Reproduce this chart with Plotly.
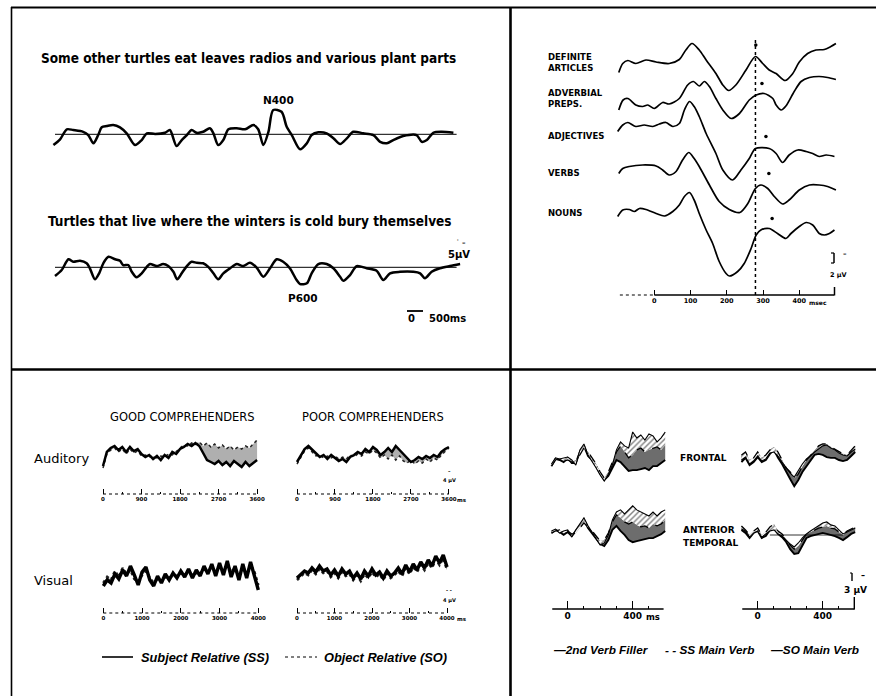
import plotly.graph_objects as go

W, H = 876, 696

# ---------------- DATA ----------------
# Panel A: sentence ERPs (time in s from sentence onset, amplitude in µV, negative plotted up)
SENT1_TEXT = "Some other turtles eat leaves radios and various plant parts"
SENT2_TEXT = "Turtles that live where the winters is cold bury themselves"
SENT1_T = [-0.05, 0.16, 0.37, 0.57, 0.88, 1.04, 1.20, 1.35, 1.46, 1.62, 1.82, 2.03, 2.24, 2.50, 2.71,
           2.87, 3.13, 3.44, 3.59, 3.80, 3.96, 4.12, 4.27, 4.43, 4.63, 4.84, 4.95, 5.10, 5.26, 5.42,
           5.68, 5.94, 6.20, 6.35, 6.51, 6.67, 6.82, 7.08, 7.24, 7.40, 7.66, 7.87, 8.02, 8.23, 8.49,
           8.70, 8.91, 9.12, 9.32, 9.63, 9.95, 10.16, 10.37, 10.57, 10.88, 11.30, 11.46, 11.62, 11.82,
           12.08, 12.45]
SENT1_UV = [4.3, 2.0, -2.0, -1.7, -1.0, 0.3, 3.6, 0.3, -2.8, -3.3, -3.7, -2.8, -0.4, 4.3, 2.3,
            -0.4, -0.1, -0.6, -1.7, 4.7, 2.3, 0.3, -1.7, -0.6, -1.0, -2.4, -0.4, 4.3, 2.3, -2.0,
            -2.4, -2.0, -3.7, -2.0, 4.3, -1.0, -9.7, -9.0, -3.0, 0.3, 6.0, 3.6, 0.3, -0.8, -0.4,
            1.6, 3.9, 1.6, -1.0, -0.4, 0.3, 3.0, 3.6, 2.3, 0.7, 0.3, 3.0, 2.3, -0.6, -1.0, -0.6]
SENT2_T = [0.00, 0.21, 0.42, 0.57, 0.78, 0.99, 1.09, 1.25, 1.38, 1.51, 1.67, 1.88, 2.03, 2.13, 2.29,
           2.40, 2.55, 2.71, 2.87, 2.97, 3.18, 3.38, 3.54, 3.70, 3.82, 3.96, 4.12, 4.27, 4.43, 4.63,
           4.79, 4.95, 5.10, 5.26, 5.47, 5.68, 5.88, 6.09, 6.30, 6.51, 6.72, 6.93, 7.13, 7.34, 7.55,
           7.66, 7.87, 8.02, 8.23, 8.49, 8.70, 8.91, 9.01, 9.22, 9.43, 9.74, 10.05, 10.26, 10.47,
           10.78, 11.20, 11.41, 11.56, 11.77, 12.03, 12.34, 12.66]
SENT2_UV = [3.5, 1.1, -3.2, -2.2, -2.6, -1.6, 0.4, 4.8, 2.4, -1.6, -4.2, -3.2, -2.6, -0.9, -0.9,
            1.8, 4.0, 2.4, -0.2, -1.3, -0.5, -1.3, -0.5, 1.8, 4.8, 2.4, -0.5, -2.2, -1.8, -1.6,
            -0.2, 2.4, 4.8, 2.4, 0.4, -1.3, -0.5, -1.8, 0.1, 3.8, 0.4, -3.2, -2.2, 0.4, 5.1,
            6.7, 6.4, 2.4, -1.3, -1.3, 0.4, 3.8, 5.4, 3.1, -0.5, 0.4, 1.4, 5.1, 2.4, 1.8,
            1.8, 2.4, 4.4, 1.8, 0.4, -0.5, -1.3]
SCALE_A_S = 0.5      # 500 ms scale bar

# Panel B: word-class ERPs (ms, µV, negative up)
WORD_CLASSES = ["DEFINITE<br>ARTICLES", "ADVERBIAL<br>PREPS.", "ADJECTIVES", "VERBS", "NOUNS"]
DEF_MS = [-98, -87, -73, -51, -23, 5, 41, 69, 87, 104, 124, 143, 170, 189, 205, 225, 253, 279, 299,
          317, 336, 361, 382, 400, 423, 446, 469, 487, 501]
DEF_UV = [2.1, 0.3, -0.3, 0.3, -0.4, 0.0, 0.3, -0.5, -2.4, -3.7, -2.4, -0.4, 2.3, 4.6, 5.7, 4.6, 1.6,
          -1.1, 0.3, 1.6, 2.3, 3.7, 2.3, 0.0, -1.7, -2.4, -2.5, -3.1, -3.7]
ADV_MS = [-98, -86, -73, -51, -32, -18, 0, 23, 41, 69, 92, 108, 124, 138, 152, 170, 189, 212, 235,
          262, 281, 303, 327, 336, 350, 363, 386, 405, 428, 455, 478, 501]
ADV_UV = [1.2, -0.8, -1.1, 0.2, 0.5, 0.2, 0.9, -0.3, 0.0, -1.1, -3.8, -4.5, -3.6, -4.5, -3.5, -1.1,
          1.2, 2.9, 1.9, -0.8, -1.8, -2.1, -1.1, 0.2, 1.2, 0.4, -2.5, -4.5, -5.3, -5.5, -5.3, -4.9]
ADJ_MS = [-101, -87, -73, -51, -28, -4, 14, 32, 51, 69, 83, 97, 110, 124, 143, 170, 189, 216, 239,
          262, 279, 317, 336, 354, 372, 396, 419, 437, 455, 474, 497]
ADJ_UV = [1.3, 0.0, -0.5, 0.3, 0.0, 0.3, -0.2, -0.5, 0.3, -0.3, -3.0, -4.7, -3.7, -1.7, 1.7, 5.7,
          9.0, 11.0, 9.0, 6.7, 4.7, 4.7, 5.7, 7.5, 6.0, 5.0, 5.3, 5.7, 6.3, 6.0, 6.3]
VERB_MS = [-98, -87, -69, -32, 5, 23, 41, 60, 78, 95, 110, 124, 152, 179, 207, 236, 258, 279, 294,
           313, 331, 354, 372, 400, 428, 455, 478, 501]
VERB_UV = [1.3, 0.3, -0.1, -0.4, -0.2, 0.6, 1.6, 0.9, -1.4, -2.9, -1.7, -0.1, 3.6, 6.9, 8.5, 9.1,
           7.3, 4.3, 3.6, 4.3, 5.9, 7.4, 6.6, 4.6, 3.6, 3.6, 3.9, 4.6]
NOUN_MS = [-101, -87, -69, -55, -41, -23, 5, 28, 51, 69, 83, 97, 110, 124, 143, 161, 179, 198, 207,
           230, 248, 267, 281, 294, 317, 340, 363, 377, 400, 419, 437, 455, 469, 483, 497]
NOUN_UV = [1.3, 0.0, -0.1, 0.3, -0.3, -0.1, 0.7, 1.2, 0.3, -1.0, -2.7, -3.5, -2.0, 0.7, 4.0, 6.7,
           10.3, 12.7, 13.2, 12.3, 10.7, 7.7, 5.0, 4.0, 3.7, 4.7, 5.7, 4.7, 3.3, 2.5, 3.0, 4.7, 5.0,
           4.7, 4.0]
PEAK_MARK_MS = [280, 297, 308, 316, 325]
PEAK_MARK_UV = [-3.4, -4.1, 2.3, 1.3, 1.7]
PEAK_LATENCY_MS = 279
B_TICKS = [0, 100, 200, 300, 400]

# Panel C: relative-clause sentences (ms, µV, negative up)
GROUPS = ["GOOD COMPREHENDERS", "POOR COMPREHENDERS"]
MODALITIES = ["Auditory", "Visual"]
AUD_T = [0, 90, 180, 270, 360, 450, 540, 630, 720, 810, 900, 990, 1080, 1170, 1260, 1350, 1440,
         1530, 1620, 1710, 1800, 1890, 1980, 2070, 2160, 2250, 2340, 2430, 2520, 2610, 2700, 2790,
         2880, 2970, 3060, 3150, 3240, 3330, 3420, 3510, 3600]
AUD_GOOD_SS = [5, -2, -4, -5, -3, -4.5, -2, -4.5, -2.5, -3.5, -1, 0.5, -0.5, 1.5, 0, 2, -0.5, 1, -2,
               -1, -3.5, -4.5, -6, -5, -6.5, -5, -1.5, 2, 3, 4, 2.5, 4.5, 3, 5, 2.5, 4, 5.5, 3, 5,
               3.5, 2]
AUD_GOOD_SO = [6, -1, -3, -4, -2, -3.5, -1, -3.5, -1.5, -2.5, 0, -0.5, 0.5, 0, 1, 0, 0.5, -1, -0.5,
               -2.5, -4, -5.5, -5, -6.5, -5.5, -7, -5, -6.5, -4.5, -6, -4, -5.5, -3.5, -5, -3, -4.5,
               -3.5, -5, -4, -6, -8]
AUD_POOR_SS = [3, -0.5, -3.5, -5, -3, -1, 0.5, -0.5, 1.5, -0.5, 1, 2.5, 1.5, 3, 0.5, -0.5, -2, -1,
               -3.5, -2, -4.5, -3, -0.5, -2, -4, -2, -5, -3, -0.5, 1, 3, 2, 0.5, 1.5, 0, 1, -0.5,
               0.5, -2, -3.5, -4.5]
AUD_POOR_SO = [4, 0.5, -2.5, -4, -2, 0, -0.5, 1, 0, 1, 0, 1.5, 0.5, 1.5, -0.5, 0.5, -1, 0, -2, -1,
               -3, -1.5, 1, -0.5, 1.5, -0.5, 2, 0, 2.5, 3.5, 2, 4, 2.5, 3.5, 1.5, 3, 1, 2, -0.5,
               -2.5, -4]
VIS_T = [0, 100, 200, 300, 400, 500, 600, 700, 800, 900, 1000, 1100, 1200, 1300, 1400, 1500, 1600,
         1700, 1800, 1900, 2000, 2100, 2200, 2300, 2400, 2500, 2600, 2700, 2800, 2900, 3000, 3100,
         3200, 3300, 3400, 3500, 3600, 3700, 3800, 3900, 4000]
VIS_GOOD_SS = [5.5, 2.5, 4, -0.5, 2, -2.5, 0.5, -4.5, 0, 5, -1.5, -4, 2.5, 5.5, 0.5, 4, -0.5, 2.5,
               -1, 1.5, -2, 1, -3, 1.5, -2.5, 0.5, -4.5, -0.5, -5.5, 0.5, -6, 0, -7, 1, -4.5, 2.5,
               -5.5, 1.5, -6.5, 0, 7.5]
VIS_GOOD_SO = [4, 1, 2.5, -2, 1, -3.5, -0.5, -2.5, 2, 3.5, 0, -2, 1.5, 4, 2, 3, 1, 1.5, 0, 0.5, -1,
               0, -1.5, 0, -1, -0.5, -3, -1.5, -4, -1.5, -4.5, -2, -5, -1.5, -3.5, 0.5, -4, -0.5,
               -5, -1.5, 5]
VIS_POOR_SS = [1.5, -0.5, -2, -1, -3.5, -1.5, -4.5, -2, -3, 0, -2.5, 0.5, -3, -0.5, -2, 1.5, -1, 2,
               -2, 0.5, -3, 0, -1.5, 1.5, -2, 0.5, -1, -3.5, -0.5, -5, -1.5, -5.5, -2.5, -6.5,
               -3.5, -7.5, -4.5, -9.5, -6, -10, -4]
VIS_POOR_SO = [2.5, 0.5, -1, 0, -2.5, -0.5, -3, -1, -2, 1, -1, 1.5, -1.5, 0.5, -0.5, 2.5, 0, 3,
               -0.5, 1.5, -1.5, 1, -0.5, 2.5, -1, 1.5, 0, -2, 0.5, -3.5, -0.5, -4, -1.5, -5, -2.5,
               -6, -3.5, -8, -5, -8.5, -2.5]
AUD_MAJOR = [0, 900, 1800, 2700, 3600]
AUD_MINOR = [450, 1350, 2250, 3150]
VIS_MAJOR = [0, 1000, 2000, 3000, 4000]
VIS_MINOR = [500, 1500, 2500, 3500]

# Panel D: main-verb ERPs (ms, µV, negative up)
D_T = [-100, -75, -50, -25, 0, 25, 50, 75, 100, 125, 150, 175, 200, 225, 250, 275, 300, 325, 350,
       375, 400, 425, 450, 475, 500, 525, 550, 575, 600]
FRONT_L_SO = [2.3, -0.4, 0, 0.8, -0.8, 1.1, 1.1, -3, -5.3, -1.5, 0, 2.3, 5.3, 7.5, 6, 3, 0, 0.8,
              2.3, 4.1, 3.8, 3.8, 3.4, 3, 3.8, 2.3, 2.3, 1.1, 0]
FRONT_L_SS = [2.3, 0, -0.8, 0.4, 0, 0.8, 0, -1.9, -4.5, -3, -0.8, 1.5, 4.5, 6.8, 4.5, 0.8, -3,
              -5.3, -3, -0.8, -1.9, -3.8, -4.5, -3, -3.8, -4.5, -4.9, -3.8, -5.6]
FRONT_L_FILLER = [1.5, -0.8, -0.4, -0.8, -1.1, 0, 1.9, -3.8, -6, -1.9, 0.4, 3, 5.6, 7.9, 5.3, 1.9,
                  -3.8, -6.8, -5.3, -4.5, -10.5, -8.3, -9.4, -7.5, -9.8, -9, -6.8, -8.3, -10.5]
FRONT_R_SO = [0.8, -0.8, 1.9, 0.8, -1.1, 0.8, 0, -2.3, -3.8, -0.8, 1.5, 4.5, 7.1, 9.8, 7.5, 4.5,
              2.3, 0, -1.9, -2.3, -1.9, -1.1, -0.8, -0.8, 0, 0.4, 0, -1.5, -3]
FRONT_R_SS = [-1.9, -3, 0, -0.8, -3, -0.8, -1.9, -3.8, -4.9, -3, 0, 3, 4.5, 6.8, 5.3, 2.3, 0, -1.9,
              -3.8, -5.3, -6, -6, -4.9, -4.1, -3, -2.3, -1.9, -3.8, -5.3]
FRONT_R_FILLER = [0, -1.1, 1.5, 0.4, -1.5, 0.4, -0.4, -2.6, -3, -1.5, 0.8, 3, 4.9, 6.4, 3.8, 1.5,
                  -0.4, -1.5, -3, -4.1, -5.3, -5.6, -4.5, -3.8, -2.6, -1.9, -1.5, -3, -4.1]
ANT_L_SO = [0.4, -0.8, 0, 1.1, 0, 1.5, -0.4, -2.3, -4.5, -1.5, 0.4, 2.3, 4.5, 5.3, 3, -0.8, -2.3,
            -0.4, 1.1, 3, 3.8, 3.4, 3, 2.6, 2.3, 2.3, 1.5, 0.8, -0.4]
ANT_L_SS = [0.4, -0.4, -0.8, 0.4, -0.4, 0.8, 0.4, -1.5, -3.4, -1.9, -0.4, 1.5, 3.4, 3, 0.4, -3.8,
            -6.4, -5.3, -3.8, -3, -3.8, -2.6, -1.9, -2.3, -1.5, -3, -2.3, -3, -4.5]
ANT_L_FILLER = [-0.4, -1.1, 0.4, -0.4, -0.8, 1.9, -0.8, -3, -5.3, -2.3, 0, 2.6, 4.9, 4.1, 1.1,
                -4.5, -7.5, -8.3, -6.8, -8.3, -9.8, -8.3, -7.5, -6.8, -6, -7.5, -6, -7.5, -8.3]
ANT_R_SO = [-1.9, -0.8, 1.1, -0.8, -1.5, 1.1, 0.4, -1.9, -2.6, -0.4, 0.8, 2.6, 5.3, 7.1, 6.8, 4.1,
            1.1, 0.4, 0, -0.4, -0.8, -0.4, 0, 0.4, 1.1, 1.9, 0.8, -0.4, -1.1]
ANT_R_SS = [-3.4, -1.9, 0, -1.5, -2.6, 0, -1.1, -3, -4.1, -1.5, -0.4, 1.9, 3.8, 5.3, 4.1, 1.9,
            -0.4, -1.1, -1.9, -2.6, -3, -3.4, -2.6, -2.3, -1.1, 0, -1.5, -2.3, -3]
ANT_R_FILLER = [-2.3, -1.5, 0.8, -0.8, -1.5, 0.8, -0.4, -1.5, -1.9, -0.4, 0.4, 1.9, 3.4, 4.5, 3,
                1.1, -0.4, -1.5, -2.6, -3.4, -4.5, -4.9, -3.8, -3.4, -1.9, -0.4, -1.1, -1.9, -2.6]
D_MAJOR = [0, 400]
D_MINOR = [100, 200, 300, 500]
D_LEGEND = ["\u20142nd Verb Filler", "- - SS Main Verb", "\u2014SO Main Verb"]

# ---------------- FIGURE ----------------
SANS = "Liberation Sans, Arial, sans-serif"
DJ = "DejaVu Sans, sans-serif"
COND = "DejaVu Sans Condensed, DejaVu Sans, sans-serif"

fig = go.Figure()
fig.update_layout(width=W, height=H, margin=dict(l=0, r=0, t=0, b=0),
                  paper_bgcolor="white", plot_bgcolor="rgba(0,0,0,0)", showlegend=False)

_xc, _yc = [0], [0]


def make_x(px0, px1, px_zero, px_per_unit, axis_py=None, **kw):
    _xc[0] += 1
    n = _xc[0]
    name = "xaxis" if n == 1 else "xaxis%d" % n
    ref = "x" if n == 1 else "x%d" % n
    ax = dict(domain=[px0 / W, px1 / W],
              range=[(px0 - px_zero) / px_per_unit, (px1 - px_zero) / px_per_unit],
              anchor="free", position=0, visible=False, showgrid=False, zeroline=False,
              showline=False, fixedrange=True)
    if axis_py is not None:
        ax.update(visible=True, position=1 - axis_py / H, side="bottom", ticks="inside",
                  tickcolor="black", tickwidth=1.3, tickmode="array")
    ax.update(kw)
    fig.update_layout({name: ax})
    return ref


def make_y(py0, py1, py_zero, px_per_unit):
    # negative-up convention: value v is drawn at py_zero + v * px_per_unit (pixels down)
    _yc[0] += 1
    n = _yc[0]
    name = "yaxis" if n == 1 else "yaxis%d" % n
    ref = "y" if n == 1 else "y%d" % n
    ax = dict(domain=[1 - py1 / H, 1 - py0 / H],
              range=[(py1 - py_zero) / px_per_unit, (py0 - py_zero) / px_per_unit],
              anchor="free", position=0, visible=False, showgrid=False, zeroline=False,
              fixedrange=True)
    fig.update_layout({name: ax})
    return ref


def line_trace(x, y, xr, yr, width=1.6, color="black", dash="solid", shape="linear", **kw):
    fig.add_trace(go.Scatter(x=x, y=y, xaxis=xr, yaxis=yr, mode="lines", hoverinfo="skip",
                             line=dict(color=color, width=width, dash=dash, shape=shape,
                                       smoothing=0.8 if shape == "spline" else None), **kw))


def text(x, y, s, size, family=SANS, weight="normal", style="normal", xanchor="center"):
    fig.add_annotation(x=x / W, y=1 - y / H, xref="paper", yref="paper", text=s, showarrow=False,
                       xanchor=xanchor, yanchor="middle",
                       align="left" if xanchor == "left" else "center",
                       font=dict(size=size, family=family, weight=weight, style=style,
                                 color="black"))


def pline(x0, y0, x1, y1, width=1.0, dash="solid"):
    fig.add_shape(type="line", xref="paper", yref="paper", x0=x0 / W, y0=1 - y0 / H,
                  x1=x1 / W, y1=1 - y1 / H, line=dict(color="black", width=width, dash=dash))


def xline(xr, v0, v1, py, width=1.0, dash="solid"):
    fig.add_shape(type="line", xref=xr, yref="paper", x0=v0, x1=v1, y0=1 - py / H,
                  y1=1 - py / H, line=dict(color="black", width=width, dash=dash))


# frame
pline(11, 7.5, 876, 7.5, 2.2)
pline(11.5, 7, 11.5, 696, 1.6)
pline(510.5, 7, 510.5, 696, 2.6)
pline(11, 369.5, 876, 369.5, 2.6)

# ---------- Panel A ----------
xa = make_x(40, 470, 55, 32)
ya1 = make_y(95, 165, 134.3, 2.5)
ya2 = make_y(238, 300, 267.3, 2.5)
for yr, t, v in [(ya1, SENT1_T, SENT1_UV), (ya2, SENT2_T, SENT2_UV)]:
    fig.add_shape(type="line", xref=xa, yref=yr, x0=0, x1=12.55, y0=0, y1=0,
                  line=dict(color="black", width=1))
    line_trace(t, v, xa, yr, width=2.5, shape="spline")
text(248, 58, SENT1_TEXT, 13.5, COND, "bold")
text(250, 221, SENT2_TEXT, 13.5, COND, "bold")
text(278, 100, "N400", 10.5, DJ, "bold")
text(303, 298, "P600", 10.5, DJ, "bold")
text(459, 254, "5\u03bcV", 10, DJ, "bold")
text(461, 243, "\u02d9 \u2013", 7, DJ, "bold")
fig.add_shape(type="line", xref=xa, yref="paper", x0=11.0, x1=11.0 + SCALE_A_S,
              y0=1 - 311 / H, y1=1 - 311 / H, line=dict(color="black", width=1.8))
text(406, 319, "0", 10, DJ, "bold", xanchor="left")
text(427, 319, "500ms", 10, DJ, "bold", xanchor="left")

# ---------- Panel B ----------
xb = make_x(610, 845, 654.3, 0.3625, axis_py=295, tickvals=B_TICKS,
            ticktext=[str(v) for v in B_TICKS], ticklen=5,
            tickfont=dict(size=6.5, family=DJ, weight="bold", color="black"))
b_bases = [62, 104, 125, 167, 210]
b_label_y = [62.5, 98.5, 136, 173, 213]
b_series = [(DEF_MS, DEF_UV), (ADV_MS, ADV_UV), (ADJ_MS, ADJ_UV), (VERB_MS, VERB_UV),
            (NOUN_MS, NOUN_UV)]
for i, (ms, uv) in enumerate(b_series):
    yr = make_y(b_bases[i] - 35, b_bases[i] + 75, b_bases[i], 5.0)
    line_trace(ms, uv, xb, yr, width=1.7, shape="spline")
    fig.add_trace(go.Scatter(x=[PEAK_MARK_MS[i]], y=[PEAK_MARK_UV[i]], xaxis=xb, yaxis=yr,
                             mode="markers", hoverinfo="skip",
                             marker=dict(color="black", size=3.5)))
    text(546, b_label_y[i], WORD_CLASSES[i], 8.5, DJ, "bold", xanchor="left")
fig.add_shape(type="line", xref=xb, yref="paper", x0=PEAK_LATENCY_MS, x1=PEAK_LATENCY_MS,
              y0=1 - 40 / H, y1=1 - 297 / H, line=dict(color="black", width=1.5, dash="dot"))
xline(xb, -95, 0, 295, 1.2, "dot")
xline(xb, 0, 496, 295, 1.5)
pline(834.5, 287, 834.5, 295.5, 1.5)
pline(834, 253, 834, 263, 1.5)
pline(831, 253, 834, 253, 1.2)
pline(831, 263, 834, 263, 1.2)
text(845, 254, "\u2013", 7, DJ, "bold")
text(838, 275, "2 \u03bcV", 6.5, DJ, "bold")
text(818, 302, "msec", 6, DJ, "bold")

# ---------- Panel C ----------
tick_font_c = dict(size=5.5, family=DJ, weight="bold", color="black")
c_specs = [
    # (x px0, px1, px_zero, px/unit, axis_py, y zero px, times, SS, SO, major, minor)
    (95, 265, 103, 0.0428, 494, 456, AUD_T, AUD_GOOD_SS, AUD_GOOD_SO, AUD_MAJOR, AUD_MINOR),
    (289, 460, 297, 0.0422, 494, 456, AUD_T, AUD_POOR_SS, AUD_POOR_SO, AUD_MAJOR, AUD_MINOR),
    (95, 265, 103.3, 0.03875, 613, 575, VIS_T, VIS_GOOD_SS, VIS_GOOD_SO, VIS_MAJOR, VIS_MINOR),
    (289, 460, 297, 0.0375, 613, 575, VIS_T, VIS_POOR_SS, VIS_POOR_SO, VIS_MAJOR, VIS_MINOR),
]
for k, (px0, px1, pz, ppu, apy, yz, t, ss, so, major, minor) in enumerate(c_specs):
    xr = make_x(px0, px1, pz, ppu, axis_py=apy, tickvals=major,
                ticktext=[str(v) for v in major], ticklen=5, tickfont=tick_font_c,
                minor=dict(tickvals=minor, ticklen=2, ticks="inside", tickcolor="black",
                           tickwidth=1))
    yr = make_y(yz - 28, yz + 29, yz, 2.0)
    xline(xr, t[0], t[-1], apy, 1.0, "dot")
    visual = k >= 2
    line_trace(t, so, xr, yr, width=2.6 if visual else 1.5, color="#222222", dash="dot")
    line_trace(t, ss, xr, yr, width=3.4 if visual else 2.5, fill="tonexty",
               fillcolor="rgba(40,40,40,0.75)" if visual else "rgba(110,110,110,0.55)")
text(182, 417, GROUPS[0], 11.5, DJ)
text(373, 417, GROUPS[1], 11.5, DJ)
text(32, 458, MODALITIES[0], 13, DJ, xanchor="left")
text(32, 580, MODALITIES[1], 13, DJ, xanchor="left")
text(462, 500, "ms", 5.5, DJ, "bold")
text(462, 619, "ms", 5.5, DJ, "bold")
text(449, 471, "\u2013", 5, DJ, "bold")
text(449, 480, "4 \u03bcV", 5, DJ, "bold")
text(449, 590, "- -", 5, DJ, "bold")
text(449, 600, "4 \u03bcV", 5, DJ, "bold")
pline(102, 657, 133, 657, 1.6)
pline(285, 657, 317, 657, 1.0, "dot")
text(139, 657, "Subject Relative (SS)", 12.8, SANS, "bold", "italic", xanchor="left")
text(322, 657, "Object Relative (SO)", 12.8, SANS, "bold", "italic", xanchor="left")

# ---------- Panel D ----------
tick_font_d = dict(size=9, family=DJ, weight="bold", color="black")
d_minor = dict(tickvals=D_MINOR, ticklen=3, ticks="inside", tickcolor="black", tickwidth=1.2)
xdl = make_x(548, 668, 567.7, 0.1625, axis_py=609, tickvals=D_MAJOR,
             ticktext=[str(v) for v in D_MAJOR], ticklen=8, tickfont=tick_font_d, minor=d_minor)
xdr = make_x(738, 858, 757.7, 0.1625, axis_py=609, tickvals=D_MAJOR,
             ticktext=[str(v) for v in D_MAJOR], ticklen=8, tickfont=tick_font_d, minor=d_minor)
pxu = 1 / 0.375
d_specs = [
    (xdl, make_y(420, 495, 460, pxu), FRONT_L_SO, FRONT_L_SS, FRONT_L_FILLER),
    (xdr, make_y(420, 500, 460, pxu), FRONT_R_SO, FRONT_R_SS, FRONT_R_FILLER),
    (xdl, make_y(495, 565, 532, pxu), ANT_L_SO, ANT_L_SS, ANT_L_FILLER),
    (xdr, make_y(500, 570, 535, pxu), ANT_R_SO, ANT_R_SS, ANT_R_FILLER),
]
for k, (xr, yr, so, ss, fl) in enumerate(d_specs):
    if k == 3:
        fig.add_shape(type="line", xref=xr, yref=yr, x0=75, x1=525, y0=0, y1=0,
                      line=dict(color="black", width=0.8))
    line_trace(D_T, so, xr, yr, width=1.9)
    line_trace(D_T, ss, xr, yr, width=1.3, dash="dash", fill="tonexty",
               fillcolor="rgba(60,60,60,0.75)")
    line_trace(D_T, fl, xr, yr, width=1.1, fill="tonexty", fillcolor="white",
               fillpattern=dict(shape="/", fgcolor="black", bgcolor="white", size=4,
                                solidity=0.35))
xline(xdl, -95, 590, 609, 1.5)
xline(xdr, -95, 595, 609, 1.5)
pline(854.3, 597, 854.3, 609.5, 1.4)
pline(852, 573, 852, 581, 1.4)
pline(850, 573, 852, 573, 1.2)
text(863, 575, "\u2013", 8, DJ, "bold")
text(855, 590, "3 \u03bcV", 9, DJ, "bold")
text(653, 617, "ms", 8.5, DJ, "bold")
text(703, 458, "FRONTAL", 9, DJ, "bold")
text(681, 530, "ANTERIOR", 9, DJ, "bold", xanchor="left")
text(681, 543, "TEMPORAL", 9, DJ, "bold", xanchor="left")
text(551, 650, D_LEGEND[0], 11.8, SANS, "bold", "italic", xanchor="left")
text(663, 650, D_LEGEND[1], 11.8, SANS, "bold", "italic", xanchor="left")
text(768, 650, D_LEGEND[2], 11.8, SANS, "bold", "italic", xanchor="left")

fig.write_html("out.html", config={"displayModeBar": False},
               post_script="document.body.style.margin='0px';"
                           "document.body.style.overflow='hidden';")
